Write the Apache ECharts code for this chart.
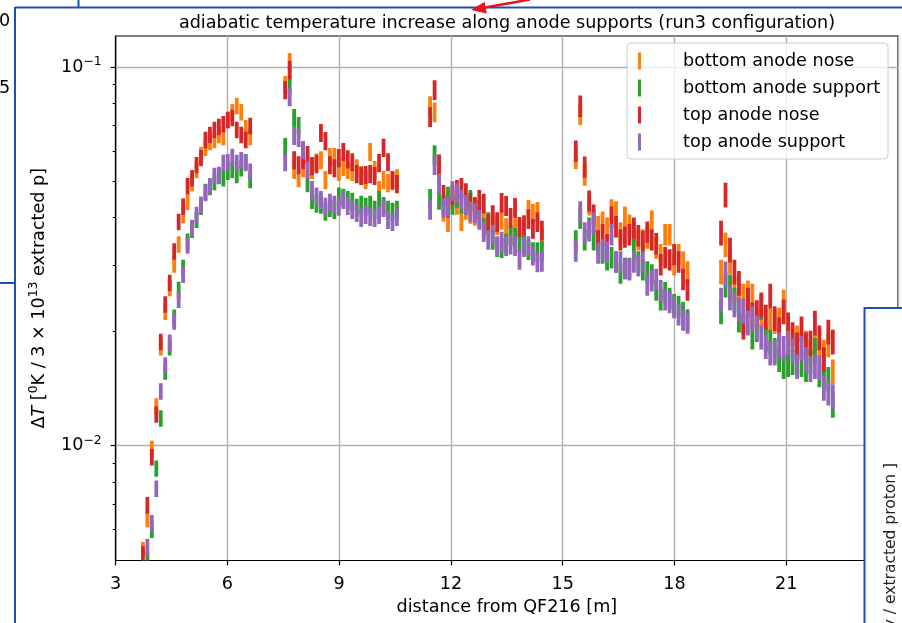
<!DOCTYPE html>
<html>
<head>
<meta charset="utf-8">
<script src="https://cdn.jsdelivr.net/npm/echarts@6/dist/echarts.min.js"></script>
<style>
  html, body { margin: 0; padding: 0; background: #ffffff; }
  #chart { width: 902px; height: 623px; }
</style>
</head>
<body>
<div id="chart"></div>
<script>
// Distance of each measurement point from QF216 [m], one list per anode module
const distance = [
  [3.73, 3.85, 3.97, 4.09, 4.21, 4.33, 4.45, 4.57, 4.69, 4.81, 4.93, 5.05, 5.17, 5.29, 5.41, 5.53, 5.65, 5.77, 5.89, 6.01, 6.13, 6.25, 6.37, 6.49, 6.61],
  [7.55, 7.67, 7.79, 7.91, 8.03, 8.15, 8.27, 8.39, 8.51, 8.63, 8.75, 8.87, 8.99, 9.11, 9.23, 9.35, 9.47, 9.59, 9.71, 9.83, 9.95, 10.07, 10.19, 10.31, 10.43, 10.55],
  [11.44, 11.56, 11.68, 11.80, 11.92, 12.04, 12.16, 12.28, 12.40, 12.52, 12.64, 12.76, 12.88, 13.00, 13.12, 13.24, 13.36, 13.48, 13.60, 13.72, 13.84, 13.96, 14.08, 14.20, 14.32, 14.44],
  [15.35, 15.47, 15.59, 15.71, 15.83, 15.95, 16.07, 16.19, 16.31, 16.43, 16.55, 16.67, 16.79, 16.91, 17.03, 17.15, 17.27, 17.39, 17.51, 17.63, 17.75, 17.87, 17.99, 18.11, 18.23, 18.35],
  [19.25, 19.37, 19.49, 19.61, 19.73, 19.85, 19.97, 20.09, 20.21, 20.33, 20.45, 20.57, 20.69, 20.81, 20.93, 21.05, 21.17, 21.29, 21.41, 21.53, 21.65, 21.77, 21.89, 22.01, 22.13, 22.25]
];

// Adiabatic temperature increase [K per 3e13 extracted protons]
const bottomAnodeNose = [
  [0.0053, 0.0064, 0.0098, 0.0127, 0.0182, 0.0226, 0.0261, 0.0301, 0.0340, 0.0407, 0.0441, 0.0494, 0.0535, 0.0586, 0.0612, 0.0634, 0.0642, 0.0662, 0.0654, 0.0725, 0.0760, 0.0789, 0.0760, 0.0690, 0.0654],
  [0.0897, 0.1031, 0.0535, 0.0509, 0.0541, 0.0551, 0.0535, 0.0561, 0.0568, 0.0503, 0.0579, 0.0579, 0.0529, 0.0545, 0.0535, 0.0529, 0.0541, 0.0519, 0.0503, 0.0597, 0.0535, 0.0474, 0.0503, 0.0494, 0.0500, 0.0509],
  [0.0789, 0.0760, 0.0519, 0.0415, 0.0390, 0.0446, 0.0433, 0.0392, 0.0420, 0.0410, 0.0405, 0.0400, 0.0395, 0.0383, 0.0390, 0.0383, 0.0395, 0.0376, 0.0361, 0.0390, 0.0372, 0.0367, 0.0420, 0.0410, 0.0415, 0.0354],
  [0.0575, 0.0751, 0.0519, 0.0433, 0.0392, 0.0379, 0.0390, 0.0376, 0.0420, 0.0415, 0.0365, 0.0402, 0.0383, 0.0367, 0.0350, 0.0350, 0.0354, 0.0392, 0.0333, 0.0320, 0.0361, 0.0361, 0.0301, 0.0320, 0.0306, 0.0288],
  [0.0288, 0.0340, 0.0306, 0.0258, 0.0249, 0.0249, 0.0254, 0.0249, 0.0215, 0.0222, 0.0213, 0.0215, 0.0213, 0.0215, 0.0240, 0.0203, 0.0191, 0.0193, 0.0185, 0.0187, 0.0179, 0.0185, 0.0179, 0.0177, 0.0185, 0.0157]
];
const bottomAnodeSupport = [
  [0.00417, 0.0050, 0.0060, 0.0087, 0.0118, 0.0157, 0.0182, 0.0218, 0.0258, 0.0295, 0.0346, 0.0372, 0.0395, 0.0428, 0.0468, 0.0482, 0.0497, 0.0516, 0.0509, 0.0529, 0.0535, 0.0519, 0.0541, 0.0561, 0.0503],
  [0.0615, 0.0897, 0.0734, 0.0699, 0.0604, 0.0494, 0.0446, 0.0436, 0.0433, 0.0415, 0.0425, 0.0420, 0.0455, 0.0452, 0.0446, 0.0441, 0.0425, 0.0433, 0.0428, 0.0433, 0.0420, 0.0446, 0.0430, 0.0420, 0.0415, 0.0420],
  [0.0449, 0.0586, 0.0446, 0.0433, 0.0455, 0.0433, 0.0452, 0.0436, 0.0433, 0.0446, 0.0428, 0.0420, 0.0376, 0.0390, 0.0350, 0.0335, 0.0333, 0.0342, 0.0359, 0.0354, 0.0344, 0.0340, 0.0329, 0.0325, 0.0325, 0.0327],
  [0.0348, 0.0400, 0.0350, 0.0376, 0.0350, 0.0340, 0.0323, 0.0310, 0.0314, 0.0306, 0.0286, 0.0294, 0.0294, 0.0331, 0.0306, 0.0292, 0.0288, 0.0283, 0.0258, 0.0243, 0.0254, 0.0245, 0.0236, 0.0233, 0.0225, 0.0215],
  [0.0226, 0.0266, 0.0263, 0.0243, 0.0215, 0.0213, 0.0236, 0.0194, 0.0203, 0.0232, 0.0191, 0.0188, 0.0179, 0.0169, 0.0162, 0.0164, 0.0166, 0.0167, 0.0164, 0.0159, 0.0167, 0.0179, 0.0154, 0.0152, 0.0150, 0.0128]
];
const topAnodeNose = [
  [0.00516, 0.00696, 0.00932, 0.0121, 0.0188, 0.0236, 0.0269, 0.0326, 0.0390, 0.0428, 0.0485, 0.0509, 0.0551, 0.0575, 0.0642, 0.0662, 0.0682, 0.0695, 0.0707, 0.0725, 0.0734, 0.0682, 0.0662, 0.0642, 0.0699],
  [0.0870, 0.0982, 0.0568, 0.0551, 0.0568, 0.0586, 0.0548, 0.0554, 0.0670, 0.0638, 0.0551, 0.0541, 0.0575, 0.0597, 0.0571, 0.0561, 0.0522, 0.0516, 0.0519, 0.0522, 0.0516, 0.0558, 0.0612, 0.0561, 0.0503, 0.0491],
  [0.0738, 0.0870, 0.0554, 0.0460, 0.0425, 0.0460, 0.0474, 0.0480, 0.0465, 0.0438, 0.0425, 0.0446, 0.0436, 0.0385, 0.0407, 0.0390, 0.0438, 0.0430, 0.0400, 0.0425, 0.0379, 0.0383, 0.0397, 0.0374, 0.0390, 0.0370],
  [0.0600, 0.0789, 0.0545, 0.0443, 0.0407, 0.0348, 0.0361, 0.0340, 0.0402, 0.0379, 0.0350, 0.0356, 0.0361, 0.0376, 0.0359, 0.0346, 0.0367, 0.0350, 0.0342, 0.0301, 0.0314, 0.0310, 0.0320, 0.0306, 0.0275, 0.0258],
  [0.0365, 0.0460, 0.0329, 0.0288, 0.0269, 0.0206, 0.0243, 0.0222, 0.0225, 0.0236, 0.0219, 0.0249, 0.0217, 0.0203, 0.0226, 0.0209, 0.0197, 0.0185, 0.0204, 0.0185, 0.0187, 0.0211, 0.0193, 0.0169, 0.0200, 0.0188]
];
const topAnodeSupport = [
  [0.00443, 0.0054, 0.00624, 0.0077, 0.0139, 0.0163, 0.0187, 0.0213, 0.0243, 0.0283, 0.0338, 0.0376, 0.0407, 0.0433, 0.0465, 0.0485, 0.0516, 0.0519, 0.0558, 0.0561, 0.0579, 0.0558, 0.0568, 0.0558, 0.0529],
  [0.0561, 0.0833, 0.0658, 0.0650, 0.0604, 0.0535, 0.0474, 0.0455, 0.0446, 0.0428, 0.0438, 0.0433, 0.0428, 0.0446, 0.0430, 0.0420, 0.0412, 0.0400, 0.0407, 0.0402, 0.0400, 0.0407, 0.0425, 0.0395, 0.0390, 0.0402],
  [0.0420, 0.0551, 0.0491, 0.0425, 0.0428, 0.0471, 0.0465, 0.0446, 0.0433, 0.0415, 0.0412, 0.0395, 0.0367, 0.0350, 0.0361, 0.0337, 0.0346, 0.0337, 0.0340, 0.0337, 0.0310, 0.0335, 0.0337, 0.0318, 0.0305, 0.0306],
  [0.0327, 0.0415, 0.0365, 0.0370, 0.0388, 0.0323, 0.0329, 0.0325, 0.0361, 0.0306, 0.0306, 0.0294, 0.0292, 0.0306, 0.0299, 0.0306, 0.0266, 0.0273, 0.0275, 0.0257, 0.0243, 0.0239, 0.0232, 0.0222, 0.0215, 0.0211],
  [0.0243, 0.0285, 0.0246, 0.0236, 0.0229, 0.0227, 0.0211, 0.0217, 0.0205, 0.0194, 0.0183, 0.0176, 0.0176, 0.0185, 0.0181, 0.0187, 0.0179, 0.0162, 0.0181, 0.0169, 0.0159, 0.0162, 0.0161, 0.0142, 0.0138, 0.0135]
];

// Relative uncertainty of the estimate in each anode module
const relErr = [0.05, 0.055, 0.06, 0.065, 0.075];

const seriesNames = ['bottom anode nose', 'bottom anode support', 'top anode nose', 'top anode support'];
const xTicks = [3, 6, 9, 12, 15, 18, 21, 24];
const yMajorTicks = [0.01, 0.1];
const yMinorTicks = [0.006, 0.007, 0.008, 0.009, 0.02, 0.03, 0.04, 0.05, 0.06, 0.07, 0.08, 0.09];
const xRange = [3, 24];
const yRange = [0.00497, 0.1207];
const titleText = 'adiabatic temperature increase along anode supports (run3 configuration)';

const seriesValues = [bottomAnodeNose, bottomAnodeSupport, topAnodeNose, topAnodeSupport];
const colors = ['#ff7f0e', '#2ca02c', '#d62728', '#9467bd'];
const FONT = 'DejaVu Sans';
const FS = 17.6;
const lg = Math.log10;

// error bars are drawn in log10 space on a linear axis
function buildBars(values) {
  const out = [];
  distance.forEach((xs, g) => {
    xs.forEach((x, i) => {
      const v = values[g][i];
      if (v == null) return;
      const e = relErr[g];
      out.push([x, lg(v * (1 - e)), lg(v * (1 + e))]);
    });
  });
  return out;
}

function renderBar(params, api) {
  const x = api.value(0);
  const top = api.coord([x, api.value(2)]);
  const bot = api.coord([x, api.value(1)]);
  const w = 3.8;
  return {
    type: 'rect',
    shape: { x: top[0] - w / 2, y: top[1], width: w, height: bot[1] - top[1] },
    style: { fill: api.visual('color') }
  };
}

const chart = echarts.init(document.getElementById('chart'), null, { renderer: 'canvas' });

const frameBlue = '#1f4fb6';
const axisBlack = '#000000';

const option = {
  animation: false,
  backgroundColor: '#ffffff',
  textStyle: { fontFamily: FONT },
  grid: {
    left: 115.7, right: 4, top: 36, bottom: 62.5,
    show: true, borderColor: axisBlack, borderWidth: 1.2, backgroundColor: 'transparent',
    outerBoundsMode: 'none', containLabel: false
  },
  legend: {
    data: seriesNames,
    orient: 'vertical',
    left: 627, top: 43,
    padding: [9, 8, 8, 11],
    itemGap: 9, itemWidth: 3, itemHeight: 17,
    icon: 'rect',
    selectedMode: false,
    backgroundColor: 'rgba(255,255,255,0.8)',
    borderColor: '#cccccc', borderWidth: 1, borderRadius: 4,
    textStyle: { fontFamily: FONT, fontSize: FS, color: '#000', lineHeight: 17, padding: [0, 0, 0, 37] }
  },
  xAxis: {
    type: 'value',
    min: xRange[0], max: xRange[1], interval: 3,
    name: 'distance from QF216 [m]',
    nameLocation: 'middle', nameGap: 36,
    nameTextStyle: { fontFamily: FONT, fontSize: FS, color: '#000' },
    axisLine: { show: true, onZero: false, lineStyle: { color: axisBlack, width: 1.2 } },
    axisTick: { show: true, inside: false, length: 5, lineStyle: { color: axisBlack, width: 1.2 }, customValues: xTicks },
    axisLabel: { show: true, customValues: xTicks, margin: 15, fontFamily: FONT, fontSize: FS, color: '#000' },
    splitLine: { show: true, lineStyle: { color: '#b0b0b0', width: 1.4 } }
  },
  yAxis: [
    {
      type: 'value',
      min: lg(yRange[0]), max: lg(yRange[1]),
      name: '{n|Δ}{i|T} [{s|0}K / 3 × 10{s|13} extracted p]',
      nameLocation: 'middle', nameRotate: 90, nameGap: 54,
      nameTextStyle: {
        fontFamily: FONT, fontSize: FS, color: '#000', lineHeight: 22,
        rich: {
          n: { fontFamily: FONT, fontSize: FS, color: '#000' },
          i: { fontFamily: FONT, fontSize: FS, fontStyle: 'italic', color: '#000' },
          s: { fontFamily: FONT, fontSize: 12.4, color: '#000', verticalAlign: 'top', lineHeight: 12 }
        }
      },
      axisLine: { show: true, onZero: false, lineStyle: { color: axisBlack, width: 1.2 } },
      axisTick: { show: true, inside: false, length: 5, lineStyle: { color: axisBlack, width: 1.2 }, customValues: yMajorTicks.map(lg) },
      axisLabel: {
        show: true,
        customValues: yMajorTicks.map(lg),
        margin: 14,
        formatter: (v) => '{b|10}{s|−' + Math.round(-v) + '}',
        rich: {
          b: { fontFamily: FONT, fontSize: FS, color: '#000', lineHeight: 22 },
          s: { fontFamily: FONT, fontSize: 12.4, color: '#000', verticalAlign: 'top', lineHeight: 12 }
        }
      },
      splitLine: { show: true, lineStyle: { color: '#b0b0b0', width: 1.4 } }
    },
    {
      // minor ticks of the logarithmic scale
      type: 'value', position: 'left', offset: 0,
      min: lg(yRange[0]), max: lg(yRange[1]),
      axisLine: { show: false },
      axisTick: { show: true, inside: false, length: 3, lineStyle: { color: axisBlack, width: 1 }, customValues: yMinorTicks.map(lg) },
      axisLabel: { show: false },
      splitLine: { show: false }
    }
  ],
  series: seriesNames.map((name, k) => ({
    name: name,
    type: 'custom',
    coordinateSystem: 'cartesian2d',
    xAxisIndex: 0, yAxisIndex: 0,
    clip: true,
    itemStyle: { color: colors[k] },
    encode: { x: 0, y: [1, 2] },
    renderItem: renderBar,
    data: buildBars(seriesValues[k])
  })),
  graphic: [
    { type: 'text', z: 50, x: 507, y: 23,
      style: { text: titleText, fontFamily: FONT, fontSize: FS, fill: '#000', align: 'center', verticalAlign: 'middle', textAlign: 'center', textVerticalAlign: 'middle' } },
    // neighbouring windows
    { type: 'text', z: 100, x: -1, y: 21,
      style: { text: '0', fontFamily: FONT, fontSize: FS, fill: '#000', align: 'left', verticalAlign: 'middle', textAlign: 'left', textVerticalAlign: 'middle' } },
    { type: 'text', z: 100, x: -1, y: 88,
      style: { text: '5', fontFamily: FONT, fontSize: FS, fill: '#000', align: 'left', verticalAlign: 'middle', textAlign: 'left', textVerticalAlign: 'middle' } },
    { type: 'line', z: 100, shape: { x1: 0, y1: 283, x2: 15, y2: 283 }, style: { stroke: frameBlue, lineWidth: 2 } },
    { type: 'line', z: 100, shape: { x1: 78.5, y1: 0, x2: 78.5, y2: 7 }, style: { stroke: frameBlue, lineWidth: 2 } },
    { type: 'line', z: 100, shape: { x1: 15, y1: 7.5, x2: 902, y2: 7.5 }, style: { stroke: frameBlue, lineWidth: 2 } },
    { type: 'line', z: 100, shape: { x1: 15, y1: 7, x2: 15, y2: 623 }, style: { stroke: frameBlue, lineWidth: 2 } },
    { type: 'rect', z: 100, shape: { x: 864.5, y: 308, width: 60, height: 340 }, style: { fill: '#ffffff', stroke: frameBlue, lineWidth: 2 } },
    { type: 'text', z: 101, x: 891, y: 463, rotation: Math.PI / 2,
      style: { text: 'y / extracted proton ]', fontFamily: FONT, fontSize: 15.5, fill: '#222', align: 'right', verticalAlign: 'middle', textAlign: 'right', textVerticalAlign: 'middle' } },
    // red pointer arrow
    { type: 'line', z: 100, shape: { x1: 485, y1: 7.6, x2: 530, y2: -0.5 }, style: { stroke: '#e8141c', lineWidth: 2.5 } },
    { type: 'polygon', z: 100, shape: { points: [[471, 10], [486.7, 13.6], [484.6, 1.8]] }, style: { fill: '#e8141c' } }
  ]
};

chart.setOption(option);
</script>
</body>
</html>
